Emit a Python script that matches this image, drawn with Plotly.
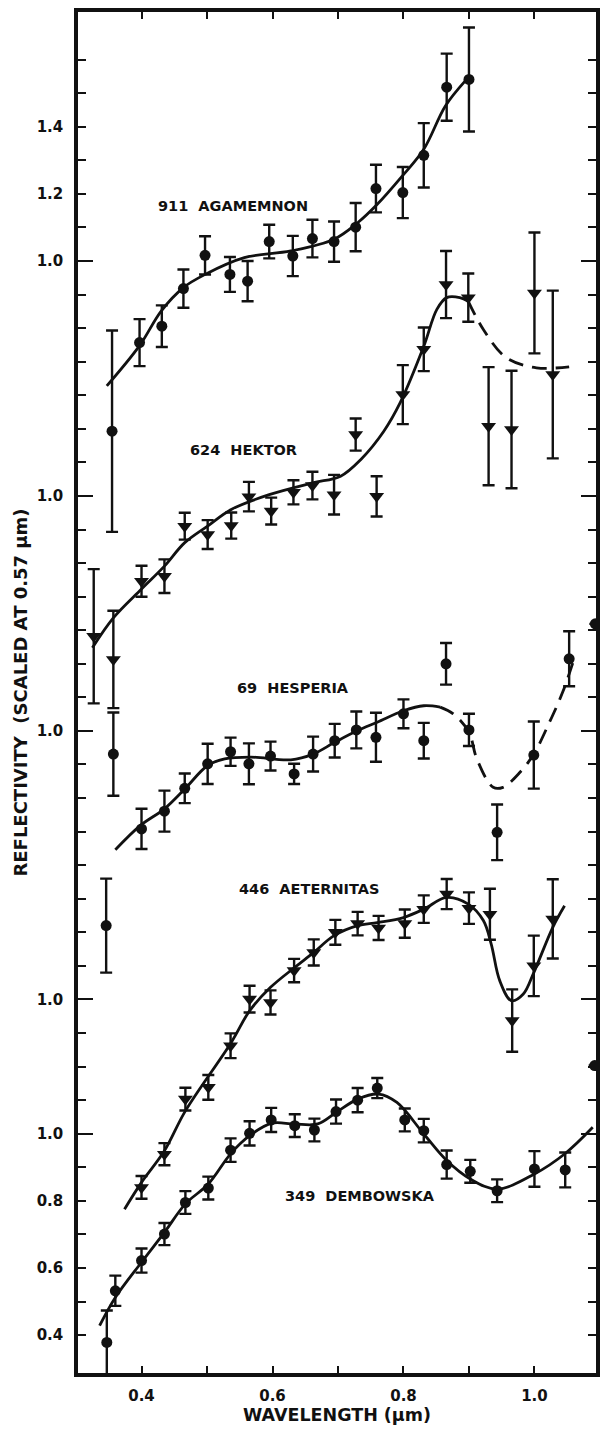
import plotly.graph_objects as go

# ---------------- data (reflectivity scaled at 0.57 um) ----------------
AGA_WL = [0.355, 0.397, 0.431, 0.464, 0.497, 0.535, 0.562, 0.595, 0.631, 0.661, 0.694, 0.727, 0.758, 0.799, 0.831, 0.866, 0.900]
AGA_R = [0.493, 0.757, 0.806, 0.918, 1.017, 0.960, 0.940, 1.058, 1.015, 1.067, 1.058, 1.101, 1.216, 1.204, 1.315, 1.518, 1.541]
AGA_ERR = [0.30, 0.07, 0.062, 0.057, 0.057, 0.052, 0.06, 0.05, 0.06, 0.056, 0.06, 0.072, 0.071, 0.076, 0.096, 0.10, 0.155]
AGA_CURVE_WL = [0.347, 0.397, 0.430, 0.464, 0.497, 0.557, 0.628, 0.694, 0.730, 0.760, 0.798, 0.831, 0.864, 0.894]
AGA_CURVE_R = [0.628, 0.748, 0.851, 0.921, 0.960, 1.010, 1.030, 1.065, 1.114, 1.169, 1.253, 1.333, 1.462, 1.536]

HEK_WL = [0.327, 0.357, 0.400, 0.435, 0.466, 0.501, 0.537, 0.564, 0.598, 0.632, 0.661, 0.694, 0.727, 0.759, 0.799, 0.831, 0.865, 0.899, 0.930, 0.965, 1.000, 1.028]
HEK_R = [0.582, 0.513, 0.746, 0.761, 0.910, 0.885, 0.912, 0.998, 0.955, 1.011, 1.031, 1.004, 1.183, 0.999, 1.302, 1.437, 1.630, 1.591, 1.208, 1.198, 1.605, 1.362]
HEK_ERR = [0.20, 0.145, 0.046, 0.05, 0.04, 0.043, 0.039, 0.044, 0.04, 0.036, 0.041, 0.059, 0.048, 0.06, 0.088, 0.065, 0.10, 0.072, 0.176, 0.175, 0.18, 0.25]
HEK_CURVE_WL = [0.325, 0.357, 0.400, 0.435, 0.466, 0.502, 0.537, 0.595, 0.661, 0.704, 0.735, 0.770, 0.795, 0.831, 0.851, 0.866, 0.886, 0.899]
HEK_CURVE_R = [0.548, 0.637, 0.723, 0.791, 0.861, 0.912, 0.960, 1.004, 1.039, 1.059, 1.109, 1.193, 1.278, 1.446, 1.556, 1.591, 1.591, 1.580]
HEK_DASH_WL = [0.899, 0.922, 0.957, 1.003, 1.053]
HEK_DASH_R = [1.580, 1.496, 1.412, 1.382, 1.385]

HES_WL = [0.346, 0.357, 0.400, 0.435, 0.466, 0.501, 0.536, 0.564, 0.597, 0.633, 0.662, 0.695, 0.728, 0.758, 0.800, 0.831, 0.865, 0.900, 0.943, 0.999, 1.053, 1.093]
HES_R = [0.420, 0.931, 0.708, 0.761, 0.829, 0.902, 0.938, 0.902, 0.925, 0.872, 0.931, 0.971, 1.003, 0.981, 1.051, 0.971, 1.200, 1.003, 0.698, 0.928, 1.215, 1.319]
HES_ERR = [0.14, 0.124, 0.06, 0.061, 0.044, 0.06, 0.042, 0.061, 0.043, 0.03, 0.052, 0.05, 0.055, 0.073, 0.043, 0.053, 0.062, 0.048, 0.083, 0.10, 0.082, 0.0]
HES_CURVE_WL = [0.360, 0.398, 0.435, 0.466, 0.501, 0.527, 0.567, 0.628, 0.662, 0.695, 0.730, 0.760, 0.800, 0.831, 0.856]
HES_CURVE_R = [0.646, 0.718, 0.768, 0.827, 0.897, 0.917, 0.922, 0.914, 0.931, 0.966, 1.001, 1.026, 1.060, 1.075, 1.071]
HES_DASH_WL = [0.856, 0.876, 0.900, 0.912, 0.937, 0.952, 0.978, 0.999, 1.023, 1.043, 1.059]
HES_DASH_R = [1.071, 1.051, 0.996, 0.917, 0.832, 0.832, 0.877, 0.931, 1.026, 1.115, 1.205]

AET_WL = [0.400, 0.435, 0.467, 0.502, 0.536, 0.565, 0.597, 0.633, 0.663, 0.696, 0.730, 0.762, 0.802, 0.831, 0.866, 0.900, 0.932, 0.966, 0.999, 1.028]
AET_R = [0.440, 0.539, 0.703, 0.738, 0.862, 1.001, 0.991, 1.086, 1.140, 1.200, 1.226, 1.213, 1.226, 1.269, 1.314, 1.272, 1.254, 0.937, 1.100, 1.240]
AET_ERR = [0.034, 0.033, 0.034, 0.037, 0.037, 0.04, 0.036, 0.035, 0.039, 0.037, 0.035, 0.036, 0.042, 0.041, 0.045, 0.047, 0.076, 0.093, 0.09, 0.118]
AET_CURVE_WL = [0.374, 0.400, 0.435, 0.467, 0.537, 0.565, 0.597, 0.633, 0.663, 0.694, 0.730, 0.760, 0.800, 0.831, 0.866, 0.899, 0.922, 0.934, 0.947, 0.965, 0.983, 0.999, 1.028, 1.046]
AET_CURVE_R = [0.375, 0.455, 0.549, 0.668, 0.872, 0.966, 1.036, 1.094, 1.140, 1.190, 1.220, 1.229, 1.244, 1.269, 1.304, 1.284, 1.235, 1.165, 1.056, 0.996, 1.016, 1.080, 1.215, 1.279]

DEM_WL = [0.347, 0.360, 0.400, 0.435, 0.467, 0.502, 0.536, 0.565, 0.598, 0.634, 0.664, 0.697, 0.730, 0.760, 0.802, 0.831, 0.866, 0.902, 0.943, 1.000, 1.047, 1.092]
DEM_R = [0.378, 0.532, 0.622, 0.701, 0.795, 0.838, 0.951, 1.001, 1.041, 1.024, 1.011, 1.066, 1.100, 1.136, 1.041, 1.009, 0.908, 0.888, 0.830, 0.895, 0.892, 1.203]
DEM_ERR = [0.095, 0.045, 0.036, 0.033, 0.034, 0.034, 0.035, 0.036, 0.036, 0.034, 0.034, 0.036, 0.036, 0.03, 0.034, 0.035, 0.042, 0.034, 0.034, 0.053, 0.052, 0.0]
DEM_CURVE_WL = [0.336, 0.360, 0.400, 0.435, 0.467, 0.502, 0.536, 0.565, 0.598, 0.633, 0.669, 0.697, 0.730, 0.762, 0.790, 0.831, 0.866, 0.902, 0.943, 1.000, 1.047, 1.089]
DEM_CURVE_R = [0.428, 0.512, 0.617, 0.706, 0.791, 0.850, 0.940, 0.994, 1.031, 1.029, 1.029, 1.063, 1.103, 1.118, 1.093, 0.999, 0.920, 0.865, 0.835, 0.880, 0.941, 1.019]

NAMES = ["911  AGAMEMNON", "624  HEKTOR", "69  HESPERIA", "446  AETERNITAS", "349  DEMBOWSKA"]
# vertical offset of each spectrum (in reflectivity units)
OFFSETS = [2.6, 1.9, 1.2, 0.4, 0.0]

X_TICKS = [0.4, 0.5, 0.6, 0.7, 0.8, 0.9, 1.0]
X_TICK_TEXT = ["0.4", "", "0.6", "", "0.8", "", "1.0"]
Y_LABEL_POS = [0.4, 0.6, 0.8, 1.0, 1.4, 2.2, 2.9, 3.6, 3.8, 4.0]
Y_LABEL_TEXT = ["0.4", "0.6", "0.8", "1.0", "1.0", "1.0", "1.0", "1.0", "1.2", "1.4"]

# ------------------------------------------------------------------------
FONT = "DejaVu Sans"
BLACK = "#111111"

fig = go.Figure()


def shift(vals, off):
    return [v + off for v in vals]


series = [
    (AGA_WL, AGA_R, AGA_ERR, AGA_CURVE_WL, AGA_CURVE_R, None, None, "circle"),
    (HEK_WL, HEK_R, HEK_ERR, HEK_CURVE_WL, HEK_CURVE_R, HEK_DASH_WL, HEK_DASH_R, "triangle-down"),
    (HES_WL, HES_R, HES_ERR, HES_CURVE_WL, HES_CURVE_R, HES_DASH_WL, HES_DASH_R, "circle"),
    (AET_WL, AET_R, AET_ERR, AET_CURVE_WL, AET_CURVE_R, None, None, "triangle-down"),
    (DEM_WL, DEM_R, DEM_ERR, DEM_CURVE_WL, DEM_CURVE_R, None, None, "circle"),
]

for (wl, r, err, cwl, cr, dwl, dr, sym), off in zip(series, OFFSETS):
    fig.add_trace(go.Scatter(
        x=cwl, y=shift(cr, off), mode="lines",
        line=dict(color=BLACK, width=2.8, shape="spline", smoothing=1.0),
        showlegend=False, hoverinfo="skip"))
    if dwl is not None:
        fig.add_trace(go.Scatter(
            x=dwl, y=shift(dr, off), mode="lines",
            line=dict(color=BLACK, width=2.8, shape="spline", smoothing=1.0, dash="15px,9px"),
            showlegend=False, hoverinfo="skip"))
    fig.add_trace(go.Scatter(
        x=wl, y=shift(r, off), mode="markers",
        marker=dict(symbol=sym, color=BLACK, size=11 if sym == "circle" else 13,
                    line=dict(width=0)),
        error_y=dict(type="data", array=err, visible=True, color=BLACK, thickness=2.4, width=6),
        showlegend=False))

# dummy trace so that the overlay axis (long ticks) is drawn
fig.add_trace(go.Scatter(x=[None], y=[None], yaxis="y2", showlegend=False, hoverinfo="skip"))

LABEL_POS = [(0.540, 3.764), (0.556, 3.037), (0.631, 2.328), (0.655, 1.729), (0.734, 0.814)]
for name, (lx, ly) in zip(NAMES, LABEL_POS):
    fig.add_annotation(x=lx, y=ly, text=name, showarrow=False,
                       font=dict(family=FONT, size=14.5, color=BLACK, weight="bold"),
                       xanchor="center", yanchor="middle")

y_grid = [round(0.4 + 0.1 * i, 1) for i in range(39)]
y_text = [Y_LABEL_TEXT[Y_LABEL_POS.index(v)] if v in Y_LABEL_POS else "" for v in y_grid]
Y_RANGE = [0.287, 4.342]

axis_common = dict(showline=True, linewidth=3.5, linecolor=BLACK, mirror="ticks",
                   ticks="inside", tickcolor=BLACK, tickwidth=2.2,
                   showgrid=False, zeroline=False)

fig.update_layout(
    width=607, height=1433,
    margin=dict(l=78, r=7, t=12, b=60),
    paper_bgcolor="white", plot_bgcolor="white",
    font=dict(family=FONT, color=BLACK),
    xaxis=dict(range=[0.303, 1.094], tickvals=X_TICKS, ticktext=X_TICK_TEXT, ticklen=7,
               tickfont=dict(family=FONT, size=15, weight="bold"), ticklabelstandoff=6,
               title=dict(text="WAVELENGTH (μm)", font=dict(family=FONT, size=17.5, weight="bold"), standoff=3),
               **axis_common),
    yaxis=dict(range=Y_RANGE, tickvals=y_grid, ticktext=y_text, ticklen=8,
               tickfont=dict(family=FONT, size=15, weight="bold"), ticklabelstandoff=8,
               title=dict(text="REFLECTIVITY  (SCALED AT 0.57 μm)", font=dict(family=FONT, size=18, weight="bold"), standoff=5),
               **axis_common),
    yaxis2=dict(range=Y_RANGE, overlaying="y", side="left", tickvals=Y_LABEL_POS[3:8], ticklen=15,
                showticklabels=False, **axis_common),
)

fig.write_html("out.html")
